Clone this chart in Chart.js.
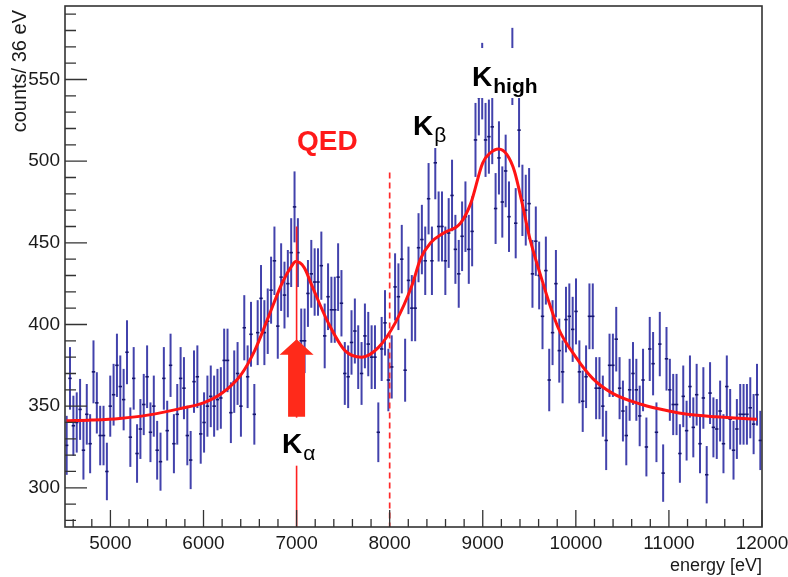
<!DOCTYPE html>
<html>
<head>
<meta charset="utf-8">
<script src="https://cdn.jsdelivr.net/npm/chart.js@4.4.1/dist/chart.umd.min.js"></script>
<style>
  html, body { margin: 0; padding: 0; background: #fff; }
  #wrap { width: 788px; height: 577px; }
</style>
</head>
<body>
<div id="wrap"><canvas id="spectrum"></canvas></div>
<script>
// histogram: 208 bins of 36 eV starting at 4512 eV
const binStart = 4512;
const binWidth = 36;
const counts = [
  326, 367, 338, 340, 348, 323, 345, 327, 371, 352, 332, 332, 310, 350, 357, 375, 362, 354, 383, 331,
  367, 321, 336, 351, 368, 334, 350, 323, 316, 367, 335, 375, 327, 345, 367, 361, 332, 317, 365, 368,
  333, 340, 350, 356, 350, 354, 355, 378, 378, 346, 365, 370, 350, 398, 368, 394, 345, 395, 416, 395,
  402, 421, 439, 399, 429, 418, 425, 444, 472, 444, 390, 390, 419, 431, 426, 426, 436, 393, 417, 409,
  409, 429, 413, 370, 368, 389, 396, 380, 370, 393, 388, 380, 380, 334, 385, 401, 366, 374, 423, 417,
  440, 372, 427, 410, 410, 447, 452, 439, 477, 439, 499, 460, 460, 439, 456, 479, 446, 431, 454, 466,
  446, 457, 513, 539, 549, 513, 515, 521, 471, 502, 475, 494, 466, 558, 462, 519, 476, 470, 474, 431,
  451, 430, 405, 433, 366, 395, 425, 384, 371, 403, 405, 397, 408, 371, 353, 368, 405, 405, 361, 361,
  350, 329, 375, 375, 391, 361, 347, 332, 360, 370, 360, 344, 366, 325, 385, 376, 334, 388, 309, 379,
  360, 351, 351, 321, 356, 335, 362, 337, 357, 327, 355, 308, 358, 337, 336, 347, 327, 362, 342, 323,
  336, 345, 345, 345, 349, 339, 357, 329
];

// fitted curve
const fitEnergy = [4528, 4800, 5100, 5400, 5750, 6000, 6200, 6400, 6550, 6700, 6850, 6950, 6990, 7080, 7170,
  7340, 7520, 7700, 7880, 8060, 8240, 8330, 8440, 8580, 8760, 8870, 9000, 9080, 9170, 9260, 9340, 9420,
  9500, 9600, 9810, 10000, 10180, 10390, 10710, 11000, 11200, 11500, 11946];
const fitCounts = [341, 341.5, 342.5, 344.5, 348.5, 352, 358, 369, 384, 405, 426, 436, 438.5, 435, 423,
  401, 384, 380, 386, 401, 424, 440, 450, 456, 462, 474, 499, 505, 507.5, 504, 494, 475,
  454, 434, 398, 380, 367, 358, 351, 347, 345, 343.5, 342];

const xTicks = [5000, 6000, 7000, 8000, 9000, 10000, 11000, 12000];
const yTicks = [300, 350, 400, 450, 500, 550];
const xRange = [4512, 12000];
const yRange = [276, 595];

const peakLabels = [
  { main: 'QED', sub: '', x: 7330, y: 507, color: '#ff1a1a', align: 'center', box: [-35, -26, 35, 4] },
  { main: 'K', sub: 'β', x: 8251, y: 516, color: '#000', align: 'left', box: [-3, -27, 35, 13] },
  { main: 'K', sub: 'high', x: 8885, y: 546, color: '#000', align: 'left', box: [-4, -38, 65, 12] },
  { main: 'K', sub: 'α', x: 6843, y: 321.5, color: '#000', align: 'left', box: [-4, -35, 39, 13] }
];

const binCenters = counts.map((c, i) => binStart + binWidth * (i + 0.5));

const overlay = {
  id: 'overlay',
  beforeDatasetsDraw(chart) {
    const { ctx, scales: { x, y } } = chart;
    ctx.save();
    ctx.beginPath();
    ctx.rect(chart.chartArea.left, chart.chartArea.top, chart.chartArea.width, chart.chartArea.height);
    ctx.clip();
    ctx.strokeStyle = 'rgba(40,40,160,0.88)';
    ctx.lineWidth = 2;
    counts.forEach((c, i) => {
      const e = Math.sqrt(c);
      const px = x.getPixelForValue(binCenters[i]);
      ctx.beginPath();
      ctx.moveTo(px, y.getPixelForValue(c - e));
      ctx.lineTo(px, y.getPixelForValue(c + e));
      ctx.stroke();
    });
    ctx.restore();
  },
  afterDatasetsDraw(chart) {
    const { ctx, chartArea: a, scales: { x, y } } = chart;
    ctx.save();

    // K-alpha position line
    ctx.strokeStyle = '#ff2020';
    ctx.lineWidth = 1.6;
    ctx.beginPath();
    ctx.moveTo(x.getPixelForValue(7000), y.getPixelForValue(460));
    ctx.lineTo(x.getPixelForValue(7000), a.bottom);
    ctx.stroke();

    // dashed line at 8000 eV
    ctx.setLineDash([6, 4]);
    ctx.strokeStyle = '#ff2a2a';
    ctx.lineWidth = 1.7;
    ctx.beginPath();
    ctx.moveTo(x.getPixelForValue(8000), y.getPixelForValue(493));
    ctx.lineTo(x.getPixelForValue(8000), a.bottom);
    ctx.stroke();
    ctx.setLineDash([]);

    // big arrow
    const ax = x.getPixelForValue(7000);
    const tip = y.getPixelForValue(391), head = y.getPixelForValue(381.5), tail = y.getPixelForValue(343.5);
    ctx.fillStyle = '#ff2a1a';
    ctx.beginPath();
    ctx.moveTo(ax, tip);
    ctx.lineTo(ax + 17, head);
    ctx.lineTo(ax + 8.5, head);
    ctx.lineTo(ax + 8.5, tail);
    ctx.lineTo(ax - 8.5, tail);
    ctx.lineTo(ax - 8.5, head);
    ctx.lineTo(ax - 17, head);
    ctx.closePath();
    ctx.fill();

    // peak labels on white boxes
    peakLabels.forEach(l => {
      const px = x.getPixelForValue(l.x), py = y.getPixelForValue(l.y);
      ctx.fillStyle = '#fff';
      ctx.fillRect(px + l.box[0], py + l.box[1], l.box[2] - l.box[0], l.box[3] - l.box[1]);
      ctx.fillStyle = l.color;
      ctx.font = 'bold 28px "Liberation Sans", Arial, sans-serif';
      ctx.textAlign = l.align;
      ctx.textBaseline = 'alphabetic';
      ctx.fillText(l.main, px, py);
      if (l.sub) {
        const w = ctx.measureText(l.main).width;
        ctx.font = (l.sub === 'high' ? 'bold ' : '') + '21px "Liberation Sans", Arial, sans-serif';
        ctx.textAlign = 'left';
        ctx.fillText(l.sub, px + w + 1, py + 7);
      }
    });

    // frame
    ctx.strokeStyle = '#333';
    ctx.lineWidth = 1.6;
    ctx.strokeRect(a.left, a.top, a.right - a.left, a.bottom - a.top);

    // ticks pointing inward
    ctx.lineWidth = 1.3;
    ctx.beginPath();
    for (let v = 280; v <= 590; v += 10) {
      const py = y.getPixelForValue(v);
      const len = yTicks.includes(v) ? 22 : 11;
      ctx.moveTo(a.left, py);
      ctx.lineTo(a.left + len, py);
    }
    for (let v = 4600; v <= 12000; v += 200) {
      const px = x.getPixelForValue(v);
      const len = xTicks.includes(v) ? 17 : 8;
      ctx.moveTo(px, a.bottom);
      ctx.lineTo(px, a.bottom - len);
    }
    ctx.stroke();

    // tick labels
    ctx.fillStyle = '#1a1a1a';
    ctx.font = '19px "Liberation Sans", Arial, sans-serif';
    ctx.textAlign = 'right';
    ctx.textBaseline = 'middle';
    yTicks.forEach(v => ctx.fillText(String(v), a.left - 5, y.getPixelForValue(v)));
    ctx.textAlign = 'center';
    ctx.textBaseline = 'top';
    xTicks.forEach(v => ctx.fillText(String(v), x.getPixelForValue(v), a.bottom + 7));

    // axis titles
    ctx.font = '18px "Liberation Sans", Arial, sans-serif';
    ctx.textAlign = 'right';
    ctx.textBaseline = 'alphabetic';
    ctx.fillText('energy [eV]', a.right, 571);
    ctx.save();
    ctx.font = '20px "Liberation Sans", Arial, sans-serif';
    ctx.translate(26, a.top + 4);
    ctx.rotate(-Math.PI / 2);
    ctx.fillText('counts/ 36 eV', 0, 0);
    ctx.restore();

    ctx.restore();
  }
};

new Chart(document.getElementById('spectrum'), {
  type: 'scatter',
  data: {
    datasets: [
      {
        label: 'fit',
        data: fitEnergy.map((e, i) => ({ x: e, y: fitCounts[i] })),
        showLine: true,
        borderColor: '#ff1414',
        borderWidth: 3,
        pointRadius: 0,
        cubicInterpolationMode: 'monotone',
        order: 0
      },
      {
        label: 'data',
        data: counts.map((c, i) => ({ x: binCenters[i], y: c })),
        pointStyle: 'line',
        pointRadius: 1.7,
        borderColor: '#16166e',
        backgroundColor: '#16166e',
        pointBorderWidth: 1.6,
        order: 1
      }
    ]
  },
  options: {
    responsive: true,
    maintainAspectRatio: false,
    animation: false,
    layout: { padding: { left: 65, right: 26, top: 6, bottom: 50 } },
    plugins: { legend: { display: false }, tooltip: { enabled: false } },
    scales: {
      x: { type: 'linear', min: xRange[0], max: xRange[1], display: false },
      y: { type: 'linear', min: yRange[0], max: yRange[1], display: false }
    }
  },
  plugins: [overlay]
});
</script>
</body>
</html>
